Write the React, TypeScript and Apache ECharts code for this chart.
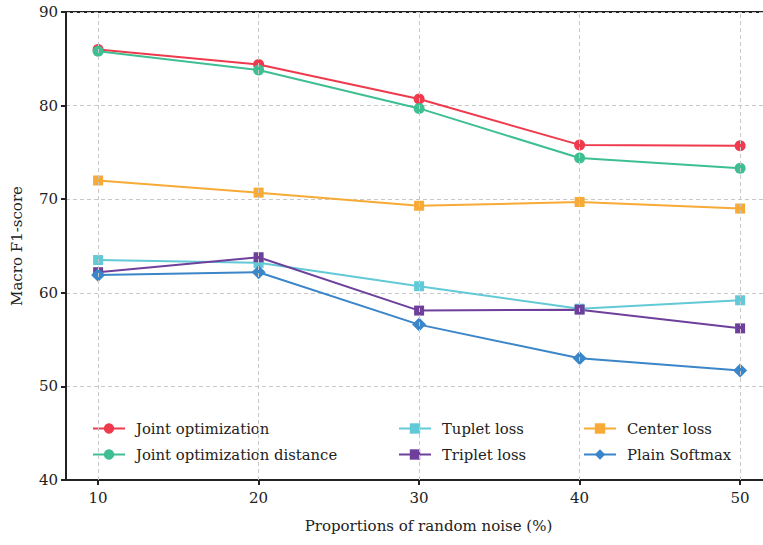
import React, { useEffect, useRef } from "react";
import * as echarts from "echarts";

const xValues = [10, 20, 30, 40, 50];
const xTicks = [10, 20, 30, 40, 50];
const jointOpt = [86.0, 84.4, 80.7, 75.8, 75.7];
const jointOptDist = [85.8, 83.8, 79.7, 74.4, 73.3];
const centerLoss = [72.0, 70.7, 69.3, 69.7, 69.0];
const tupletLoss = [63.5, 63.2, 60.7, 58.3, 59.2];
const tripletLoss = [62.2, 63.8, 58.1, 58.2, 56.2];
const plainSoftmax = [61.9, 62.2, 56.6, 53.0, 51.7];

const seriesDefs = [
  { name: "Joint optimization", data: jointOpt, color: "#EE3A4C", symbol: "circle", size: 11 },
  { name: "Joint optimization distance", data: jointOptDist, color: "#3DBF92", symbol: "circle", size: 11 },
  { name: "Center loss", data: centerLoss, color: "#F7AA35", symbol: "rect", size: 10 },
  { name: "Tuplet loss", data: tupletLoss, color: "#62C9D6", symbol: "rect", size: 10 },
  { name: "Triplet loss", data: tripletLoss, color: "#6E3F9B", symbol: "rect", size: 10 },
  { name: "Plain Softmax", data: plainSoftmax, color: "#3A86C8", symbol: "diamond", size: 14 },
];

const FONT = "DejaVu Serif";

export default function App() {
  const ref = useRef<HTMLDivElement>(null);
  useEffect(() => {
    document.body.style.margin = "0";
    const chart = echarts.init(ref.current!, undefined, { renderer: "svg" });
    const legendCommon = {
      orient: "vertical" as const,
      top: 421,
      itemWidth: 32,
      itemHeight: 13,
      itemGap: 11,
      textStyle: { fontFamily: FONT, fontSize: 14.8, color: "#222", padding: [0, 0, 0, 6] },
      padding: 0,
    };
    chart.setOption({
      animation: false,
      backgroundColor: "#fff",
      textStyle: { fontFamily: FONT },
      grid: {
        left: 66,
        top: 12,
        width: 725,
        height: 468,
        show: true,
        borderColor: "#222",
        borderWidth: 2,
        containLabel: false,
      },
      legend: [
        { ...legendCommon, left: 92, data: ["Joint optimization", "Joint optimization distance"] },
        { ...legendCommon, left: 398, data: ["Tuplet loss", "Triplet loss"] },
        { ...legendCommon, left: 583, data: ["Center loss", "Plain Softmax"] },
      ],
      xAxis: {
        type: "value",
        min: 8,
        max: 53.17,
        name: "Proportions of random noise (%)",
        nameLocation: "middle",
        nameGap: 38,
        nameTextStyle: { fontFamily: FONT, fontSize: 15, color: "#222" },
        axisLine: { show: true, lineStyle: { color: "#222", width: 2 } },
        axisTick: { show: true, customValues: xTicks, length: 5, lineStyle: { color: "#222", width: 2 } },
        axisLabel: { customValues: xTicks, fontFamily: FONT, fontSize: 15, color: "#222", margin: 10 },
        splitLine: { show: false },
      },
      yAxis: {
        type: "value",
        min: 40,
        max: 90,
        interval: 10,
        name: "Macro F1-score",
        nameLocation: "middle",
        nameGap: 42,
        nameTextStyle: { fontFamily: FONT, fontSize: 15, color: "#222" },
        axisLine: { show: true, lineStyle: { color: "#222", width: 2 } },
        axisTick: { show: true, length: 5, lineStyle: { color: "#222", width: 2 } },
        axisLabel: { fontFamily: FONT, fontSize: 15, color: "#222", margin: 8 },
        splitLine: { show: true, lineStyle: { color: "#c8c8c8", type: [4, 3], width: 1 } },
      },
      series: [
        {
          name: "vgrid",
          type: "line",
          data: [],
          z: 0,
          silent: true,
          markLine: {
            silent: true,
            symbol: "none",
            label: { show: false },
            lineStyle: { color: "#c8c8c8", type: [4, 3], width: 1 },
            data: xTicks.map((v) => ({ xAxis: v })),
          },
        },
        ...seriesDefs.map((s) => ({
          name: s.name,
          type: "line",
          data: xValues.map((x, i) => [x, s.data[i]]),
          symbol: s.symbol,
          symbolSize: s.size,
          showSymbol: true,
          lineStyle: { color: s.color, width: 2 },
          itemStyle: { color: s.color },
          emphasis: { disabled: true },
        })),
      ],
    });
    return () => chart.dispose();
  }, []);
  return (
    <div style={{ width: 763, height: 545, overflow: "hidden" }}>
      <div ref={ref} style={{ width: 800, height: 545 }} />
    </div>
  );
}
